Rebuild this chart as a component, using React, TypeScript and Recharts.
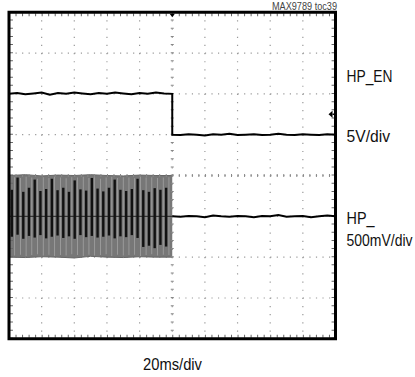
import React from 'react';
import {
  ComposedChart,
  Line,
  Area,
  Bar,
  ErrorBar,
  XAxis,
  YAxis,
  CartesianGrid,
  ReferenceLine,
  ReferenceArea,
  ReferenceDot,
} from 'recharts';

// ---- axes: time in ms (20 ms/div, 10 div), vertical in divisions (8 div) ----
const xTicks = [0, 20, 40, 60, 80, 100, 120, 140, 160, 180, 200];
const yTicks = [-4, -3, -2, -1, 0, 1, 2, 3, 4];
const enableTime = 100; // ms, HP_EN falling edge

// ---- HP_EN trace (div), sampled every 5 ms ----
const EN_STEP = 5;
const hpEnBefore = [2.0, 2.02, 1.99, 2.01, 2.03, 1.98, 2.02, 2.0, 2.03, 2.01, 1.99, 2.02, 2.0, 2.03, 2.01, 1.99, 2.02, 2.0, 2.03, 2.01, 2.0];
const hpEnAfter = [1.0, 0.99, 1.01, 1.0, 0.98, 1.01, 1.0, 1.02, 0.99, 1.0, 1.01, 0.99, 1.0, 1.02, 1.0, 0.99, 1.01, 1.0, 0.99, 1.01, 1.0];

// ---- HP_ output after shutdown (div), sampled every 5 ms ----
const hpAfter = [-1.0, -1.01, -0.99, -1.0, -1.02, -0.98, -1.0, -1.01, -0.99, -1.0, -1.02, -0.99, -1.0, -0.97, -1.01, -1.0, -0.99, -1.02, -1.0, -0.98, -1.0];

// ---- HP_ burst before shutdown: one dark stroke every 3.5 ms, light stroke between ----
const BURST_STEP = 3.5;
const darkHi = [-0.35, -0.05, -0.4, -0.3, -0.1, -0.38, -0.33, -0.08, -0.36, -0.3, -0.4, -0.12, -0.34, -0.37, -0.06, -0.32, -0.39, -0.3, -0.1, -0.35, -0.38, -0.33, -0.08, -0.36, -0.4, -0.31, -0.35, -0.3];
const darkLo = [-1.5, -1.45, -1.55, -1.48, -1.52, -1.46, -1.54, -1.5, -1.47, -1.53, -1.49, -1.55, -1.46, -1.51, -1.48, -1.52, -1.5, -1.47, -1.54, -1.49, -1.51, -1.46, -1.53, -1.75, -1.72, -1.78, -1.7, -1.74];
const lightHi = [-0.04, -0.06, -0.03, -0.05, -0.08, -0.04, -0.06, -0.03, -0.05, -0.07, -0.04, -0.05, -0.03, -0.06, -0.04, -0.08, -0.05, -0.03, -0.06, -0.04, -0.05, -0.07, -0.03, -0.05, -0.04, -0.06, -0.05, -0.04];
const lightLo = [-1.96, -1.94, -1.97, -1.95, -1.93, -1.96, -1.94, -1.97, -1.95, -1.96, -1.93, -1.95, -1.97, -1.94, -1.96, -1.95, -1.93, -1.97, -1.94, -1.96, -1.95, -1.94, -1.97, -1.95, -1.93, -1.96, -1.94, -1.95];
// burst envelope every 10 ms
const ENV_STEP = 10;
const envHi = [0.0, 0.02, -0.01, 0.01, 0.0, 0.02, 0.0, -0.01, 0.01, 0.0, 0.0];
const envLo = [-2.0, -2.01, -1.99, -2.0, -2.02, -1.98, -2.0, -2.01, -1.99, -2.0, -2.0];
const burstCentre = [-1.0, -1.0];

// markers
const triggerLevel = 1.5; // div, right-edge trigger arrow

// ---- tables ----
const hpEnData = [
  ...hpEnBefore.map((v, i) => ({ t: i * EN_STEP, v })),
  ...hpEnAfter.map((v, i) => ({ t: enableTime + i * EN_STEP, v })),
];
const hpAfterData = hpAfter.map((v, i) => ({ t: enableTime + i * EN_STEP, v }));
const darkData = darkHi.map((h, i) => ({
  t: BURST_STEP / 2 + i * BURST_STEP,
  lo: darkLo[i],
  err: [0, h - darkLo[i]],
}));
const lightData = lightHi.map((h, i) => ({ t: i * BURST_STEP + BURST_STEP, light: [lightLo[i], h] }));
const envData = envHi.map((h, i) => ({ t: i * ENV_STEP, range: [envLo[i], h] }));
const centreData = burstCentre.map((v, i) => ({ t: i * enableTime, v }));

const W = 415;
const H = 377;
const MARGIN = { top: 12.2, right: 79.5, bottom: 38.2, left: 9 };
const FONT = '"Liberation Sans", Arial, sans-serif';
const LAYER: React.CSSProperties = { position: 'absolute', left: 0, top: 0 };

const TopMarker = (p: any) => (
  <path d={`M${p.cx - 2.6},${p.cy + 1.5} L${p.cx + 2.6},${p.cy + 1.5} L${p.cx},${p.cy + 5} Z`} fill="#000" />
);
const TrigMarker = (p: any) => (
  <g>
    <path d={`M${p.cx - 7},${p.cy} L${p.cx - 3},${p.cy - 3.5} L${p.cx - 3},${p.cy + 3.5} Z`} fill="#000" />
    <line x1={p.cx - 3} y1={p.cy} x2={p.cx} y2={p.cy} stroke="#000" strokeWidth={1.5} />
  </g>
);

const T = (props: any) => (
  <text fontFamily={FONT} lengthAdjust="spacingAndGlyphs" fill="#111" fontSize={17} {...props} />
);

export default function App() {
  return (
    <div style={{ position: 'absolute', left: 0, top: 0, width: W, height: H, background: '#fff' }}>
      {/* bottom layer: graticule + grey envelope + light strokes */}
      <div style={LAYER}>
        <ComposedChart width={W} height={H} margin={MARGIN} data={lightData}>
          <XAxis dataKey="t" type="number" domain={[0, 200]} ticks={xTicks} hide allowDataOverflow />
          <YAxis type="number" domain={[-4, 4]} ticks={yTicks} hide allowDataOverflow />
          <CartesianGrid vertical={false} stroke="#999" strokeWidth={1.2} strokeDasharray="1.2 5.33" />
          <CartesianGrid horizontal={false} stroke="#999" strokeWidth={1.2} strokeDasharray="1.2 6.96" />
          <ReferenceLine y={0} stroke="#888" strokeWidth={3} strokeDasharray="1 5.53" />
          <ReferenceLine x={100} stroke="#888" strokeWidth={3} strokeDasharray="1 7.16" />
          <ReferenceLine y={3.94} stroke="#666" strokeWidth={3} strokeDasharray="1 5.53" />
          <ReferenceLine y={-3.94} stroke="#666" strokeWidth={3} strokeDasharray="1 5.53" />
          <ReferenceLine x={1.5} stroke="#666" strokeWidth={3} strokeDasharray="1 7.16" />
          <ReferenceLine x={198.5} stroke="#666" strokeWidth={3} strokeDasharray="1 7.16" />
          <Area data={envData} dataKey="range" type="linear" fill="#777" fillOpacity={1} stroke="#666" strokeWidth={1} isAnimationActive={false} />
          <Bar dataKey="light" fill="#a6a6a6" barSize={2} isAnimationActive={false} />
          <Line data={centreData} dataKey="v" type="linear" stroke="#222" strokeWidth={1} dot={false} isAnimationActive={false} />
        </ComposedChart>
      </div>
      {/* top layer: dark strokes, traces, frame */}
      <div style={LAYER}>
        <ComposedChart width={W} height={H} margin={MARGIN} data={darkData}>
          <XAxis dataKey="t" type="number" domain={[0, 200]} ticks={xTicks} hide allowDataOverflow />
          <YAxis type="number" domain={[-4, 4]} ticks={yTicks} hide allowDataOverflow />
          <Line dataKey="lo" stroke="none" dot={false} isAnimationActive={false}>
            <ErrorBar dataKey="err" direction="y" width={0} stroke="#111" strokeWidth={2.4} isAnimationActive={false} />
          </Line>
          <Line data={hpAfterData} dataKey="v" type="linear" stroke="#000" strokeWidth={2} dot={false} isAnimationActive={false} />
          <Line data={hpEnData} dataKey="v" type="linear" stroke="#000" strokeWidth={2} dot={false} isAnimationActive={false} />
          <ReferenceArea x1={0} x2={200} y1={-4} y2={4} fill="none" stroke="#000" strokeWidth={3} zIndex={2000} />
          <ReferenceDot x={100} y={4} r={3} shape={TopMarker} zIndex={2001} />
          <ReferenceDot x={200} y={triggerLevel} r={3} shape={TrigMarker} zIndex={2001} />
        </ComposedChart>
      </div>
      <svg width={W} height={H} style={{ ...LAYER, pointerEvents: 'none' }}>
        <T x={272} y={10} fontSize={10.5} fill="#444" textLength={65}>MAX9789 toc39</T>
        <T x={346.5} y={81.7} textLength={46}>HP_EN</T>
        <T x={346.5} y={141.7} textLength={43.5}>5V/div</T>
        <T x={346.5} y={224} textLength={28}>HP_</T>
        <T x={346.5} y={246} textLength={66}>500mV/div</T>
        <T x={143} y={370} textLength={59}>20ms/div</T>
      </svg>
    </div>
  );
}
